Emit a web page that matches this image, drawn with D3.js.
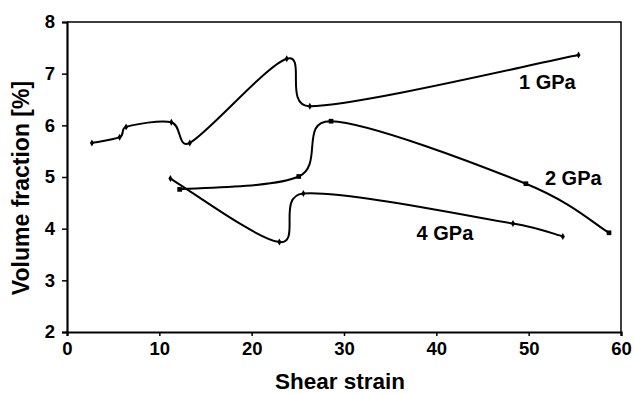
<!DOCTYPE html>
<html>
<head>
<meta charset="utf-8">
<script src="https://cdn.jsdelivr.net/npm/d3@7"></script>
<style>
  body { margin: 0; background: #fff; }
  text { font-family: "Liberation Sans", Arial, sans-serif; font-weight: bold; fill: #000; }
</style>
</head>
<body>
<div id="container"></div>
<script>
/* CONSTANTS AND GLOBALS */
const width = 634,
  height = 393,
  margin = {top: 22, left: 67, bottom: 61, right: 13};

/* DATA */
const xTicks = [0, 10, 20, 30, 40, 50, 60];
const yTicks = [2, 3, 4, 5, 6, 7, 8];

const strain1 = [2.7, 5.7, 6.4, 11.3, 13.3, 23.8, 26.3, 55.4];
const frac1 = [5.66, 5.77, 5.97, 6.06, 5.66, 7.29, 6.37, 7.36];

const strain2 = [12.2, 25.1, 28.6, 49.7, 58.7];
const frac2 = [4.76, 5.01, 6.08, 4.87, 3.92];

const strain4 = [11.2, 23.0, 25.6, 48.3, 53.7];
const frac4 = [4.97, 3.74, 4.68, 4.10, 3.85];

const seriesNames = ["1 GPa", "2 GPa", "4 GPa"];
const labelPos = [[55.1, 6.70], [57.9, 4.85], [44.0, 3.78]];

const series = [
  {name: seriesNames[0], marker: "diamond", label: labelPos[0], pts: strain1.map((x, i) => ({x, y: frac1[i]}))},
  {name: seriesNames[1], marker: "square", label: labelPos[1], pts: strain2.map((x, i) => ({x, y: frac2[i]}))},
  {name: seriesNames[2], marker: "diamond", label: labelPos[2], pts: strain4.map((x, i) => ({x, y: frac4[i]}))}
];

// spreadsheet-style smoothed line: bezier arms of 1/6, capped at half the segment
function smoothCurve(context) {
  let pts;
  return {
    areaStart() {}, areaEnd() {},
    lineStart() { pts = []; },
    point(x, y) { pts.push([+x, +y]); },
    lineEnd() {
      const n = pts.length;
      if (!n) return;
      context.moveTo(pts[0][0], pts[0][1]);
      for (let i = 0; i < n - 1; i++) {
        const p0 = pts[Math.max(i - 1, 0)], p1 = pts[i], p2 = pts[i + 1], p3 = pts[Math.min(i + 2, n - 1)];
        const d12 = Math.hypot(p2[0] - p1[0], p2[1] - p1[1]);
        const d02 = Math.hypot(p2[0] - p0[0], p2[1] - p0[1]);
        const d13 = Math.hypot(p3[0] - p1[0], p3[1] - p1[1]);
        let f1 = 1 / 6, f2 = 1 / 6;
        if (d02 / 6 > d12 / 2) f1 = d12 / 2 / d02;
        if (d13 / 6 > d12 / 2) f2 = d12 / 2 / d13;
        context.bezierCurveTo(
          p1[0] + (p2[0] - p0[0]) * f1, p1[1] + (p2[1] - p0[1]) * f1,
          p2[0] - (p3[0] - p1[0]) * f2, p2[1] - (p3[1] - p1[1]) * f2,
          p2[0], p2[1]);
      }
    }
  };
}

// SCALES
const xScale = d3.scaleLinear()
  .domain([0, 60])
  .range([margin.left, width - margin.right]);

const yScale = d3.scaleLinear()
  .domain([2, 8])
  .range([height - margin.bottom, margin.top]);

// CREATE SVG ELEMENT
const svg = d3.select("#container")
  .append("svg")
  .attr("width", width)
  .attr("height", height);

// frame top and right
svg.append("path")
  .attr("d", `M${xScale(0)},${yScale(8)}H${xScale(60)}V${yScale(2)}`)
  .attr("fill", "none")
  .attr("stroke", "#000")
  .attr("stroke-width", 1.5);

// AXES
const xAxis = svg.append("g")
  .attr("transform", `translate(0,${yScale(2)})`)
  .call(d3.axisBottom(xScale).tickValues(xTicks).tickFormat(d3.format("d"))
    .tickSizeOuter(0).tickSize(4).tickPadding(6));

const yAxis = svg.append("g")
  .attr("transform", `translate(${xScale(0)},0)`)
  .call(d3.axisLeft(yScale).tickValues(yTicks).tickFormat(d3.format("d"))
    .tickSizeOuter(0).tickSize(5).tickPadding(7));

[xAxis, yAxis].forEach(ax => {
  ax.select(".domain").attr("stroke-width", 2.2);
  ax.selectAll(".tick line").attr("stroke-width", 1.5);
  ax.selectAll(".tick text")
    .attr("font-size", 18.5)
    .attr("font-family", "Liberation Sans, Arial, sans-serif")
    .attr("font-weight", "bold")
    .attr("fill", "#000");
});

// axis titles
svg.append("text")
  .attr("x", 340)
  .attr("y", 389)
  .attr("text-anchor", "middle")
  .attr("font-size", 22.5)
  .text("Shear strain");

svg.append("text")
  .attr("transform", "translate(29,188) rotate(-90)")
  .attr("text-anchor", "middle")
  .attr("font-size", 23)
  .text("Volume fraction [%]");

// LINE GENERATOR FUNCTION
const lineGen = d3.line()
  .x(d => xScale(d.x))
  .y(d => yScale(d.y))
  .curve(smoothCurve);

// DRAW LINES
series.forEach(s => {
  svg.append("path")
    .attr("d", lineGen(s.pts))
    .attr("fill", "none")
    .attr("stroke", "#000")
    .attr("stroke-width", 2);

  svg.selectAll(null)
    .data(s.pts)
    .join("path")
    .attr("transform", d => `translate(${xScale(d.x)},${yScale(d.y)})`)
    .attr("d", d3.symbol(s.marker === "square" ? d3.symbolSquare : d3.symbolDiamond, s.marker === "square" ? 22 : 14))
    .attr("fill", "#000");

  svg.append("text")
    .attr("x", xScale(s.label[0]))
    .attr("y", yScale(s.label[1]))
    .attr("text-anchor", "end")
    .attr("font-size", 20)
    .text(s.name);
});
</script>
</body>
</html>
